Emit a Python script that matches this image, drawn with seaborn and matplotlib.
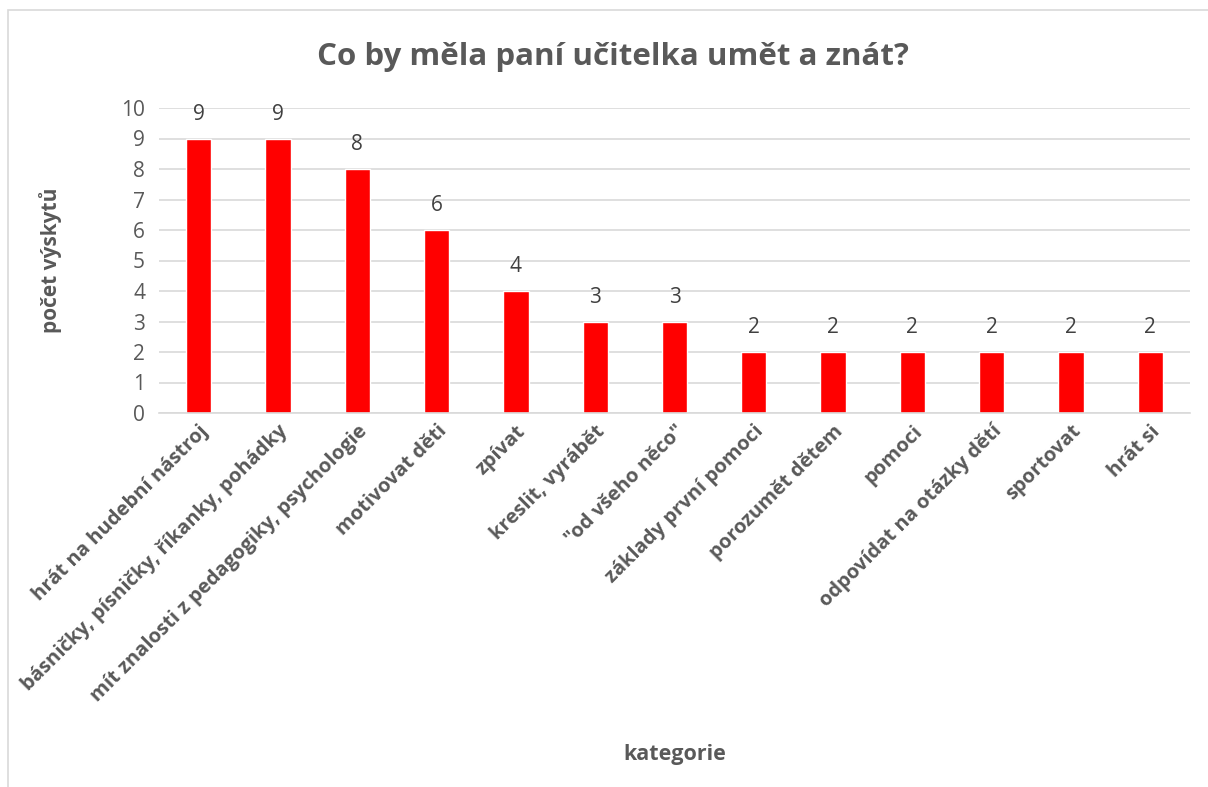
import matplotlib
matplotlib.use("Agg")
import matplotlib.pyplot as plt
import seaborn as sns
import pandas as pd
from matplotlib.patches import Rectangle

categories = ["hrát na hudební nástroj", "básničky, písničky, říkanky, pohádky",
              "mít znalosti z pedagogiky, psychologie", "motivovat děti", "zpívat",
              "kreslit, vyrábět", "\"od všeho něco\"", "základy první pomoci",
              "porozumět dětem", "pomoci", "odpovídat na otázky dětí", "sportovat", "hrát si"]
values = [9, 9, 8, 6, 4, 3, 3, 2, 2, 2, 2, 2, 2]
yticks = [0, 1, 2, 3, 4, 5, 6, 7, 8, 9, 10]

sns.set_theme(style="white")
plt.rcParams['font.family'] = ['Open Sans', 'DejaVu Sans']

gray = "#595959"
grid = "#d9d9d9"

fig = plt.figure(figsize=(12.08, 7.87), dpi=100)
fig.patch.set_facecolor("white")
fig.patches.append(Rectangle((8/1208, -0.1), 1.2, 1 - 10/787 + 0.1, transform=fig.transFigure,
                             fill=False, edgecolor=grid, linewidth=1.2))

ax = fig.add_axes([159/1208, 1 - 413/787, (1190-159)/1208, (413-108)/787])
df = pd.DataFrame({"kategorie": categories, "pocet": values})
sns.barplot(data=df, x="kategorie", y="pocet", color="#ff0000", saturation=1, width=0.32, ax=ax)

ax.set_ylim(0, 10)
ax.set_yticks(yticks)
ax.set_xlim(-0.5, len(categories) - 0.5)
ax.yaxis.grid(True, color=grid, linewidth=1.2)
ax.set_axisbelow(True)
for s in ["top", "right", "left"]:
    ax.spines[s].set_visible(False)
ax.spines["bottom"].set_color(grid)
ax.spines["bottom"].set_linewidth(1.2)
ax.tick_params(axis="both", length=0, colors=gray)
ax.tick_params(axis="y", labelsize=15, pad=10)
ax.set_xticks(range(len(categories)))
ax.set_xticklabels(categories, rotation=45, ha="right", rotation_mode="anchor",
                   fontsize=14.5, fontweight="bold", color=gray)
ax.tick_params(axis="x", pad=6)

for c in ax.containers:
    ax.bar_label(c, labels=[str(v) for v in values], padding=10, fontsize=15, color="#404040")

ax.set_xlabel("kategorie", fontsize=15.5, fontweight="bold", color=gray)
ax.set_ylabel("počet výskytů", fontsize=15, fontweight="bold", color=gray)
ax.xaxis.set_label_coords((675-159)/(1190-159), (413-744)/(413-108))
ax.yaxis.set_label_coords((62-159)/(1190-159), 0.5)

fig.text(613/1208, 1 - 57/787, "Co by měla paní učitelka umět a znát?", ha="center", va="center",
         fontsize=22.5, fontweight="bold", color=gray)

fig.savefig("out.png", dpi=100, facecolor="white")
